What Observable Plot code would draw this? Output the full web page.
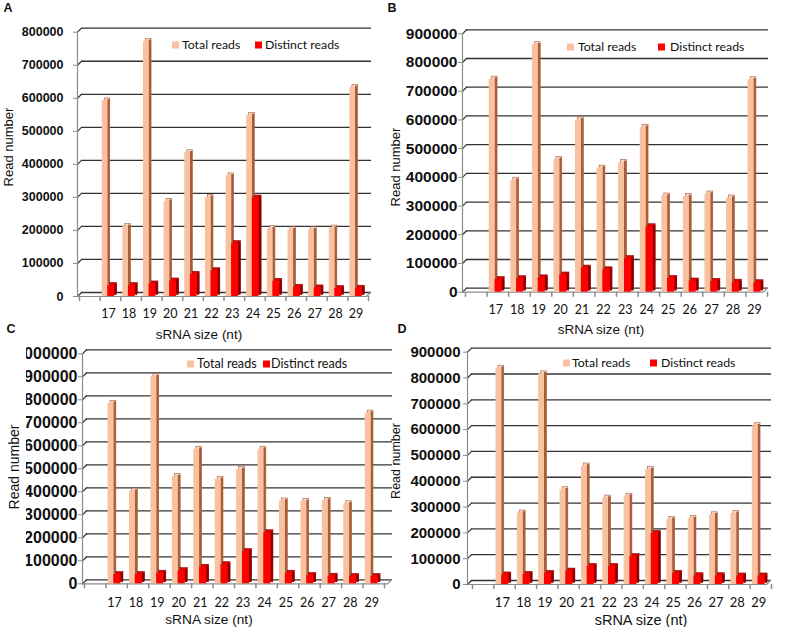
<!DOCTYPE html>
<html><head><meta charset="utf-8">
<script src="https://cdn.jsdelivr.net/npm/d3@7"></script>
<script src="https://cdn.jsdelivr.net/npm/@observablehq/plot@0.6"></script>
<style>
body{margin:0;background:#fff;}
#root{position:relative;width:787px;height:627px;overflow:hidden;background:#fff;font-family:"Liberation Sans",Arial,sans-serif;color:#111;}
.abs{position:absolute;line-height:1;white-space:nowrap;}
.letter{font-weight:bold;font-size:12.5px;transform:translate(-50%,-50%);}
.ylab{transform:translate(-50%,-50%) rotate(-90deg);}
.xlab{transform:translate(-50%,-50%);}
.leg{font-family:Lato,sans-serif;transform:translateY(-50%);color:#111;}
.sw{position:absolute;width:7px;height:7px;transform:translateY(-50%);}
</style></head><body><div id="root"></div>
<script>
// ---- data ----
const sizes = [17,18,19,20,21,22,23,24,25,26,27,28,29];
const seriesNames = ["Total reads", "Distinct reads"];
const xTitle = "sRNA size (nt)";
const yTitle = "Read number";
const panelLetters = ["A","B","C","D"];

const totalA    = [592000,212000,772000,288000,435000,300000,365000,548000,205000,202000,202000,207000,633000];
const distinctA = [33000,33000,38000,47000,67000,78000,160000,298000,46000,28000,26000,24000,25000];
const totalB    = [742000,390000,862000,462000,600000,432000,452000,574000,335000,333000,342000,328000,740000];
const distinctB = [44000,47000,50000,60000,84000,78000,117000,228000,48000,39000,38000,35000,33000];
const totalC    = [785000,403000,900000,466000,585000,454000,497000,585000,360000,358000,363000,348000,742000];
const distinctC = [40000,40000,46000,57000,72000,83000,140000,222000,46000,36000,33000,32000,32000];
const totalD    = [838000,277000,816000,367000,459000,335000,342000,445000,252000,255000,270000,275000,615000];
const distinctD = [37000,39000,43000,52000,70000,70000,108000,198000,43000,34000,34000,33000,33000];
const yMaxes = [800000, 900000, 1000000, 900000];

// ---- styling / layout ----
const colors = {
  peach:{front:"#F9C1A0", top:"#FCD6BE", side:"#A85C38"},
  red:{front:"#FF0000", top:"#E80000", side:"#8E0000"}
};
const grid = "#333333", axisGray = "#8c8c8c";
const layout = [
  {box:{left:0,top:0,width:393,height:325}, m:{l:77,r:27,t:31.7,b:29}, inset:{l:2,r:-2}, tick:{size:12.5,pad:10}, cat:{size:12.5,pad:12.5},
   letter:[8,7.5], ylab:[8,147,13], xlab:[199,335,13.5], legend:{cy:45,font:12.3,items:[[172,182],[255,265]]}},
  {box:{left:397,top:0,width:390,height:325}, m:{l:65,r:24,t:33.3,b:33.3}, inset:{l:3,r:-4}, tick:{size:15.5,pad:1}, cat:{size:12.5,pad:12.5},
   letter:[392,7.5], ylab:[395,167,13], xlab:[601,330,13.5], legend:{cy:47,font:12.3,items:[[567,578],[658,670]]}},
  {box:{left:0,top:325,width:393,height:302}, m:{l:82,r:6,t:28.3,b:43.7}, inset:{l:2,r:3}, tick:{size:16,pad:1}, cat:{size:12.5,pad:14.5}, clip:26,
   letter:[11,329], ylab:[14,467,14], xlab:[209,620,13.7], legend:{cy:364,font:12.6,items:[[187,197],[263,271]]}},
  {box:{left:397,top:325,width:390,height:302}, m:{l:70,r:21,t:26.7,b:43}, inset:{l:5,r:-5}, tick:{size:15,pad:3}, cat:{size:13,pad:13.5},
   letter:[402,329], ylab:[396,461,12.5], xlab:[641,620,14.5], legend:{cy:363,font:12.3,items:[[563,572],[650,661]]}}
];
const totals = [totalA,totalB,totalC,totalD];
const distincts = [distinctA,distinctB,distinctC,distinctD];

const root = document.getElementById("root");
function addText(cls, txt, x, y, size){
  const el = document.createElement("div");
  el.className = "abs " + cls;
  el.textContent = txt;
  el.style.left = x + "px"; el.style.top = y + "px";
  if (size) el.style.fontSize = size + "px";
  root.appendChild(el);
  return el;
}

function makePanel(i){
  const L = layout[i];
  const xDomain = ["", ...sizes.map(String)];
  const frameW = L.box.width - L.m.l - L.m.r;
  const bw = (frameW - L.inset.l - L.inset.r) / xDomain.length;
  const dep = 2.5;
  const rows = sizes.map((s,k)=>({size:String(s), total:totals[i][k], distinct:distincts[i][k]}));
  const yTicks = d3.range(0, yMaxes[i] + 1, 100000);
  const slots = {total:{l:0.10, r:0.37, c:colors.peach}, distinct:{l:0.37, r:0.70, c:colors.red}};
  const bar3d = (key) => {
    const s = slots[key];
    return [
      Plot.barY(rows, {x:"size", y:key, fill:s.c.top, stroke:s.c.side, strokeWidth:0.6, dx:dep, dy:-dep,
        insetLeft:s.l*bw, insetRight:(1-s.r)*bw}),
      Plot.barY(rows, {x:"size", y:key, fill:s.c.side, dy:-dep/2,
        insetLeft:s.r*bw, insetRight:(1-s.r)*bw - dep}),
      Plot.barY(rows, {x:"size", y:key, fill:s.c.front,
        insetLeft:s.l*bw, insetRight:(1-s.r)*bw})
    ];
  };
  const chart = Plot.plot({
    width:L.box.width, height:L.box.height,
    marginLeft:L.m.l, marginRight:L.m.r, marginTop:L.m.t, marginBottom:L.m.b,
    style:{fontFamily:"Liberation Sans, Arial, sans-serif", background:"transparent", color:"#111"},
    x:{type:"band", domain:xDomain, padding:0, round:false, insetLeft:L.inset.l, insetRight:L.inset.r},
    y:{domain:[0, yMaxes[i]], nice:false},
    marks:[
      Plot.ruleY(yTicks, {y:d=>d, dy:-4, insetLeft:4, insetRight:-5, stroke:grid, strokeWidth:1.3}),
      Plot.vector(yTicks, {y:d=>d, frameAnchor:"left", length:5.66, rotate:45, anchor:"start", r:0, stroke:grid, strokeWidth:1.2}),
      Plot.vector([0], {y:d=>d, frameAnchor:"right", length:5.66, rotate:45, anchor:"start", r:0, stroke:axisGray, strokeWidth:1.2}),
      Plot.ruleY([0], {stroke:axisGray, strokeWidth:1.2}),
      Plot.frame({anchor:"left", stroke:axisGray, strokeWidth:1.2}),
      Plot.vector(xDomain, {x:d=>d, y:()=>0, length:4, rotate:180, anchor:"start", r:0, dx:-bw/2, stroke:axisGray}),
      Plot.vector([xDomain[xDomain.length-1]], {x:d=>d, y:()=>0, length:4, rotate:180, anchor:"start", r:0, dx:bw/2, stroke:axisGray}),
      ...bar3d("total"),
      ...bar3d("distinct"),
      Plot.axisY({ticks:yTicks, tickSize:4, tickPadding:L.tick.pad, tickFormat:d3.format("d"),
        fontSize:L.tick.size, fontWeight:"bold", stroke:axisGray, fill:"#111", label:null}),
      Plot.axisX({tickSize:0, tickPadding:L.cat.pad, fontSize:L.cat.size, fontFamily:"Lato, sans-serif",
        dx:-0.1*bw, fill:"#111", label:null})
    ]
  });
  const wrap = document.createElement("div");
  wrap.style.position = "absolute";
  wrap.style.left = L.box.left + "px"; wrap.style.top = L.box.top + "px";
  if (L.clip) chart.style.clipPath = `inset(0px 0px 0px ${L.clip}px)`;
  wrap.appendChild(chart);
  root.appendChild(wrap);

  addText("letter", panelLetters[i], L.letter[0], L.letter[1]);
  addText("ylab", yTitle, L.ylab[0], L.ylab[1], L.ylab[2]);
  addText("xlab", xTitle, L.xlab[0], L.xlab[1], L.xlab[2]);
  const sw = [colors.peach.front, colors.red.front];
  L.legend.items.forEach(([sx, tx], k) => {
    const s = document.createElement("div");
    s.className = "sw"; s.style.left = sx + "px"; s.style.top = L.legend.cy + "px"; s.style.background = sw[k];
    root.appendChild(s);
    addText("leg", seriesNames[k], tx, L.legend.cy, L.legend.font);
  });
}
[0,1,2,3].forEach(makePanel);
</script></body></html>
